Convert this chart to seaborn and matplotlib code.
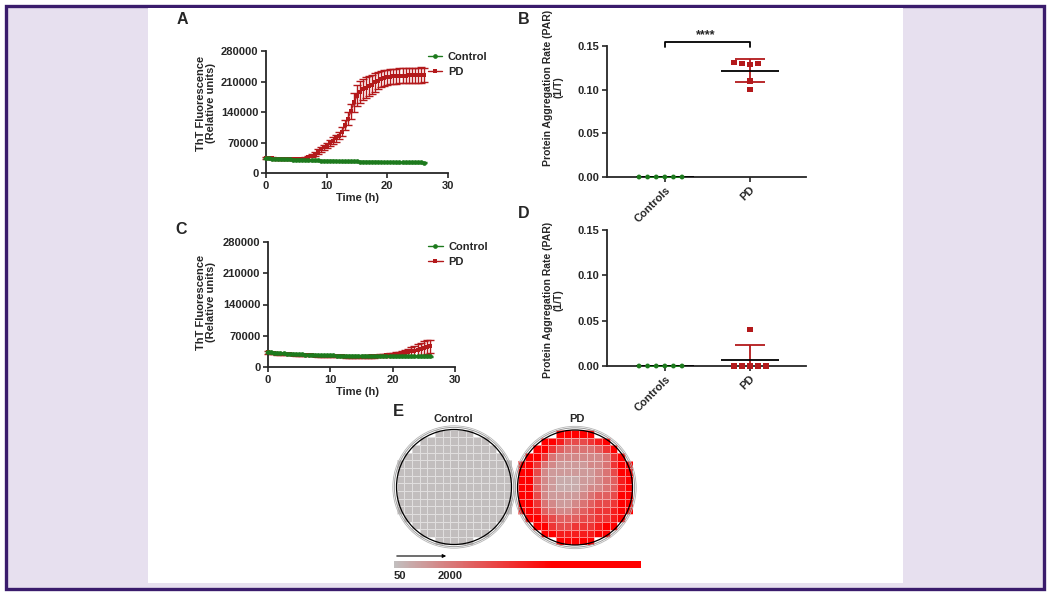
import numpy as np
import pandas as pd
import matplotlib
matplotlib.use('Agg')
import matplotlib.pyplot as plt
import seaborn as sns
from matplotlib.patches import Rectangle, Circle, FancyArrowPatch
from matplotlib.colors import LinearSegmentedColormap
from matplotlib.ticker import FormatStrFormatter

# ---- dados: curvas de ThT (media e desvio), leitura a cada 30 min ----
time_h = [0, 0.5, 1, 1.5, 2, 2.5, 3, 3.5, 4, 4.5, 5, 5.5, 6, 6.5, 7, 7.5, 8, 8.5, 9, 9.5,
          10, 10.5, 11, 11.5, 12, 12.5, 13, 13.5, 14, 14.5, 15, 15.5, 16, 16.5, 17, 17.5,
          18, 18.5, 19, 19.5, 20, 20.5, 21, 21.5, 22, 22.5, 23, 23.5, 24, 24.5, 25, 25.5, 26]

ctrl_a = [34000, 33500, 33000, 32600, 32300, 32000, 31700, 31400, 31100, 30800,
          30500, 30300, 30000, 29800, 29500, 29300, 29000, 28800, 28600, 28400,
          28200, 28000, 27800, 27600, 27400, 27200, 27000, 26900, 26700, 26600,
          26400, 26300, 26100, 26000, 25900, 25800, 25600, 25500, 25400, 25300,
          25200, 25100, 25000, 24900, 24800, 24700, 24600, 24500, 24400, 24300,
          24200, 24100, 24000]
ctrl_a_err = [1500, 1400, 1400, 1300, 1300, 1300, 1200, 1200, 1200, 1200,
              1100, 1100, 1100, 1100, 1000, 1000, 1000, 1000, 1000, 1000,
              1000, 1000, 1000, 900, 900, 900, 900, 900, 900, 900,
              900, 900, 900, 900, 900, 900, 900, 900, 900, 900,
              900, 900, 900, 900, 900, 900, 900, 900, 900, 900,
              900, 900, 900]
pd_a = [35000, 34000, 33500, 33000, 32500, 32200, 32000, 31800, 31500, 31300,
        31000, 31000, 31500, 33000, 36000, 40000, 44000, 49000, 54000, 59000,
        63000, 68000, 74000, 80000, 86000, 95000, 110000, 125000, 142000, 162000,
        177000, 186000, 192000, 196000, 199000, 203000, 208000, 212000, 215000, 218000,
        220000, 221000, 222000, 222000, 223000, 223000, 223000, 224000, 224000, 224000,
        224000, 225000, 225000]
pd_a_err = [2500, 2300, 2200, 2100, 2000, 2000, 2000, 2000, 2100, 2100,
            2200, 2300, 2500, 3000, 3500, 4000, 4500, 5000, 5500, 6000,
            6500, 7000, 7500, 8000, 9000, 10000, 12000, 14000, 17000, 21000,
            24000, 25000, 24000, 23500, 23000, 22500, 21000, 19000, 18000, 17500,
            17000, 17000, 17500, 17500, 17000, 17000, 17500, 17500, 17000, 17000,
            17500, 17500, 17000]

ctrl_c = [33500, 32500, 31800, 31300, 30900, 30500, 30100, 29700, 29300, 29000,
          28600, 28300, 28000, 27700, 27400, 27100, 26800, 26600, 26400, 26200,
          26000, 25800, 25600, 25500, 25400, 25300, 25200, 25100, 25000, 25000,
          24900, 24900, 24800, 24800, 24700, 24700, 24600, 24600, 24500, 24500,
          24400, 24400, 24300, 24300, 24200, 24200, 24100, 24100, 24000, 24000,
          23900, 23900, 23800]
ctrl_c_err = [1500, 1400, 1400, 1300, 1300, 1300, 1200, 1200, 1200, 1200,
              1100, 1100, 1100, 1100, 1000, 1000, 1000, 1000, 1000, 1000,
              1000, 1000, 1000, 900, 900, 900, 900, 900, 900, 900,
              900, 900, 900, 900, 900, 900, 900, 900, 900, 900,
              900, 900, 900, 900, 900, 900, 900, 900, 900, 900,
              900, 900, 900]
pd_c = [32500, 31500, 30800, 30200, 29700, 29200, 28800, 28400, 28000, 27600,
        27200, 26900, 26600, 26300, 26000, 25700, 25400, 25100, 24900, 24600,
        24400, 24200, 24000, 23800, 23600, 23400, 23300, 23200, 23100, 23000,
        23100, 23300, 23500, 23800, 24100, 24500, 25000, 25500, 26100, 26800,
        27600, 28500, 29500, 30600, 31800, 33200, 34800, 36500, 38300, 40200,
        42200, 44500, 46500]
pd_c_err = [2600, 2500, 2400, 2400, 2300, 2300, 2200, 2200, 2200, 2100,
            2100, 2100, 2000, 2000, 2000, 2000, 2000, 2000, 2000, 2100,
            2100, 2100, 2200, 2200, 2200, 2300, 2300, 2400, 2400, 2500,
            2500, 2600, 2700, 2800, 2900, 3000, 3100, 3300, 3500, 3700,
            4000, 4500, 5000, 6000, 7000, 8000, 9500, 11000, 13000, 14000,
            15000, 15500, 15000]

# ---- dados: taxa de agregacao (PAR) ----
grupos = ['Controls', 'PD']
par_b_ctrl = [0, 0, 0, 0, 0, 0]
par_b_pd = [0.131, 0.130, 0.130, 0.129, 0.110, 0.100]
par_d_ctrl = [0, 0, 0, 0, 0, 0]
par_d_pd = [0, 0, 0, 0, 0, 0.040]

# ---- dados: placa (mapa de calor), codigo por poco ----
niveis = {'.': np.nan, '0': 50, '1': 600, '2': 1100, '3': 1600, '4': 2200,
          '5': 2800, '6': 3400, '7': 4000, '8': 4700, '9': 6500}
placa_controle = [
    '.....00000.....',
    '...000000000...',
    '..00000000000..',
    '.0000000000000.',
    '000000000000000',
    '000000000000000',
    '000000000000000',
    '000000000000000',
    '000000000000000',
    '000000000000000',
    '000000000000000',
    '.0000000000000.',
    '..00000000000..',
    '...000000000...',
    '.....00000.....',
]
placa_pd = [
    '.....99999.....',
    '...998666789...',
    '..99754444579..',
    '.9974333333479.',
    '997432222334799',
    '996322222234699',
    '995321112234589',
    '995321112334589',
    '996322223455699',
    '997432234566799',
    '998543345677899',
    '.9976555667789.',
    '..99766777899..',
    '...998888899...',
    '.....99999.....',
]

verde = '#1d7a1d'
vermelho = '#b3191b'

# ---- estilo ----
sns.set_style('ticks')
plt.rcParams['font.family'] = ['Liberation Sans', 'DejaVu Sans']
plt.rcParams['font.weight'] = 'bold'
plt.rcParams['axes.labelweight'] = 'bold'

W, H = 1050, 595


def caixa(x0, y0, x1, y1):
    return [x0 / W, 1 - y1 / H, (x1 - x0) / W, (y1 - y0) / H]


fig = plt.figure(figsize=(10.5, 5.95), dpi=100)
fig.patch.set_facecolor('white')

# moldura roxa e fundo
fig.add_artist(Rectangle((6 / W, 1 - 588.5 / H), (1043.5 - 6) / W, (588.5 - 5.5) / H,
                         transform=fig.transFigure, facecolor='#e7e0ef',
                         edgecolor='#3a1c6c', lw=2.4, zorder=-10))
fig.add_artist(Rectangle((148 / W, 1 - 583 / H), (903 - 148) / W, (583 - 8) / H,
                         transform=fig.transFigure, facecolor='white',
                         edgecolor='none', zorder=-9))


def estilo_eixo(ax):
    ax.set_facecolor('none')
    sns.despine(ax=ax)
    for s in ['left', 'bottom']:
        ax.spines[s].set_linewidth(1.3)
    ax.tick_params(length=3.5, width=1.2, labelsize=8, pad=2)


def painel_tht(ax, pdv, pde, ctv, cte):
    ax.errorbar(time_h, pdv, yerr=pde, fmt='none', ecolor=vermelho,
                elinewidth=1, capsize=2.6, capthick=1, zorder=2)
    sns.lineplot(x=time_h, y=pdv, ax=ax, color=vermelho, marker='s', markersize=3.2,
                 markeredgewidth=0, linewidth=1, label='PD', zorder=3)
    ax.errorbar(time_h, ctv, yerr=cte, fmt='none', ecolor=verde,
                elinewidth=1, capsize=2, capthick=1, zorder=4)
    sns.lineplot(x=time_h, y=ctv, ax=ax, color=verde, marker='o', markersize=3.4,
                 markeredgewidth=0, linewidth=1, label='Control', zorder=5)
    for ln in ax.lines:
        ln.set_clip_on(False)
    ax.set_xlim(0, 30)
    ax.set_ylim(0, 280000)
    ax.set_xticks([0, 10, 20, 30])
    ax.set_yticks([0, 70000, 140000, 210000, 280000])
    ax.set_xlabel('')
    ax.set_ylabel('')
    estilo_eixo(ax)


def painel_par(ax, ctrl, pdv):
    # linewidth so para espacar o enxame, a borda fica invisivel
    sns.swarmplot(x=['Controls'] * len(ctrl), y=ctrl, order=grupos, color=verde,
                  marker='o', size=3.5, linewidth=2.4, ax=ax, zorder=5)
    sns.swarmplot(x=['PD'] * len(pdv), y=pdv, order=grupos, color=vermelho,
                  marker='s', size=3.9, linewidth=1.6, ax=ax, zorder=5)
    for c in ax.collections:
        c.set_edgecolor('none')
        if len(c.get_offsets()) > 0:
            c.set_clip_on(False)
    for i, vals in enumerate([ctrl, pdv]):
        m = np.mean(vals)
        s = np.std(vals, ddof=1)
        ax.errorbar(i, m, yerr=s, fmt='none', ecolor=[verde, vermelho][i],
                    elinewidth=1.3, capsize=10.5, capthick=1.3, zorder=3)
        ax.hlines(m, i - 0.34, i + 0.34, color='black', lw=1.3, zorder=4)
    ax.set_xlim(-0.68, 1.66)
    ax.set_ylim(0, 0.15)
    ax.set_yticks([0, 0.05, 0.10, 0.15])
    ax.yaxis.set_major_formatter(FormatStrFormatter('%.2f'))
    ax.set_xlabel('')
    ax.set_ylabel('')
    estilo_eixo(ax)
    ax.set_xticks([0, 1])
    ax.set_xticklabels(grupos, rotation=45, ha='right', rotation_mode='anchor')


# ---- A ----
axA = fig.add_axes(caixa(266, 51, 448, 173))
painel_tht(axA, pd_a, pd_a_err, ctrl_a, ctrl_a_err)
h, l = axA.get_legend_handles_labels()
axA.legend(h[::-1], l[::-1], loc='upper left', bbox_to_anchor=(0.89, 0.99),
           frameon=False, fontsize=8, handlelength=1.3, handletextpad=0.5,
           borderpad=0, borderaxespad=0, labelspacing=0.45)

# ---- C ----
axC = fig.add_axes(caixa(268, 242, 455, 367))
painel_tht(axC, pd_c, pd_c_err, ctrl_c, ctrl_c_err)
h, l = axC.get_legend_handles_labels()
axC.legend(h[::-1], l[::-1], loc='upper left', bbox_to_anchor=(0.856, 1.0),
           frameon=False, fontsize=8, handlelength=1.3, handletextpad=0.5,
           borderpad=0, borderaxespad=0, labelspacing=0.45)

# ---- B ----
axB = fig.add_axes(caixa(607, 46, 806, 177))
painel_par(axB, par_b_ctrl, par_b_pd)
axB.plot([0, 0, 1, 1], [0.149, 0.1546, 0.1546, 0.149], color='black', lw=1.3,
         clip_on=False)
axB.text(0.48, 0.1555, '****', ha='center', va='bottom', fontsize=9, weight='bold')

# ---- D ----
axD = fig.add_axes(caixa(607, 230, 806, 366))
painel_par(axD, par_d_ctrl, par_d_pd)

# ---- rotulos ----
for x, y, t in [(182, 20, 'A'), (524, 20, 'B'), (181, 229, 'C'), (524, 213.5, 'D')]:
    fig.text(x / W, 1 - y / H, t, fontsize=11.5, weight='bold', ha='center', va='center')
fig.text(398 / W, 1 - 412 / H, 'E', fontsize=12, weight='bold', ha='center', va='center')

for y in [103, 302.5]:
    fig.text(206 / W, 1 - y / H, 'ThT Fluorescence\n(Relative units)', rotation=90,
             fontsize=8, weight='bold', ha='center', va='center', multialignment='center',
             linespacing=1.1)
for y in [87.5, 300]:
    fig.text(553 / W, 1 - y / H, 'Protein Aggregation Rate (PAR)\n(1/T)', rotation=90,
             fontsize=7.5, weight='bold', ha='center', va='center', multialignment='center',
             linespacing=1.1)
for y in [198, 392]:
    fig.text(357 / W, 1 - y / H, 'Time (h)', fontsize=8, weight='bold',
             ha='center', va='center')

# ---- E: mapa de calor das placas ----
cmap = LinearSegmentedColormap.from_list(
    'cinza_vermelho', [(0, '#c2bebe'), (0.64, '#ff0000'), (1, '#ff0000')])

ctrl_grid = pd.DataFrame([[niveis[c] for c in r] for r in placa_controle])
pd_grid = pd.DataFrame([[niveis[c] for c in r] for r in placa_pd])

axE1 = fig.add_axes(caixa(396.5, 429.5, 511.5, 544.5))
axE2 = fig.add_axes(caixa(517.5, 430, 632.5, 545))
cax = fig.add_axes(caixa(394, 561, 641, 568))

sns.heatmap(ctrl_grid, ax=axE1, cmap=cmap, vmin=50, vmax=8600, cbar=False,
            linewidths=0.55, linecolor=(1, 1, 1, 0.5), square=True,
            xticklabels=False, yticklabels=False)
sns.heatmap(pd_grid, ax=axE2, cmap=cmap, vmin=50, vmax=8600, cbar=True, cbar_ax=cax,
            cbar_kws={'orientation': 'horizontal', 'ticks': [50, 2000]},
            linewidths=0.55, linecolor=(1, 1, 1, 0.5), square=True,
            xticklabels=False, yticklabels=False)

for ax in [axE1, axE2]:
    ax.axis('off')
    ax.add_patch(Circle((7.5, 7.5), 7.5, fill=False, ec='black', lw=0.9, clip_on=False))
    ax.add_patch(Circle((7.5, 7.5), 7.78, fill=False, ec='#9a9a9a', lw=0.7, clip_on=False))
    ax.add_patch(Circle((7.5, 7.5), 7.98, fill=False, ec='#b5b5b5', lw=0.6, clip_on=False))

fig.text(453 / W, 1 - 419 / H, 'Control', fontsize=8, weight='bold', ha='center', va='center')
fig.text(577 / W, 1 - 419 / H, 'PD', fontsize=8, weight='bold', ha='center', va='center')

cbar = axE2.collections[0].colorbar
cbar.outline.set_visible(False)
cax.tick_params(length=0, labelsize=8, pad=2)
for t in cax.get_xticklabels():
    t.set_fontweight('bold')
cax.get_xticklabels()[0].set_horizontalalignment('left')

fig.add_artist(FancyArrowPatch(
    (394 / W, 1 - 556 / H), (449 / W, 1 - 556 / H), transform=fig.transFigure,
    arrowstyle='-|>', mutation_scale=5, lw=0.8, color='black'))

fig.savefig('out.png', dpi=100)
